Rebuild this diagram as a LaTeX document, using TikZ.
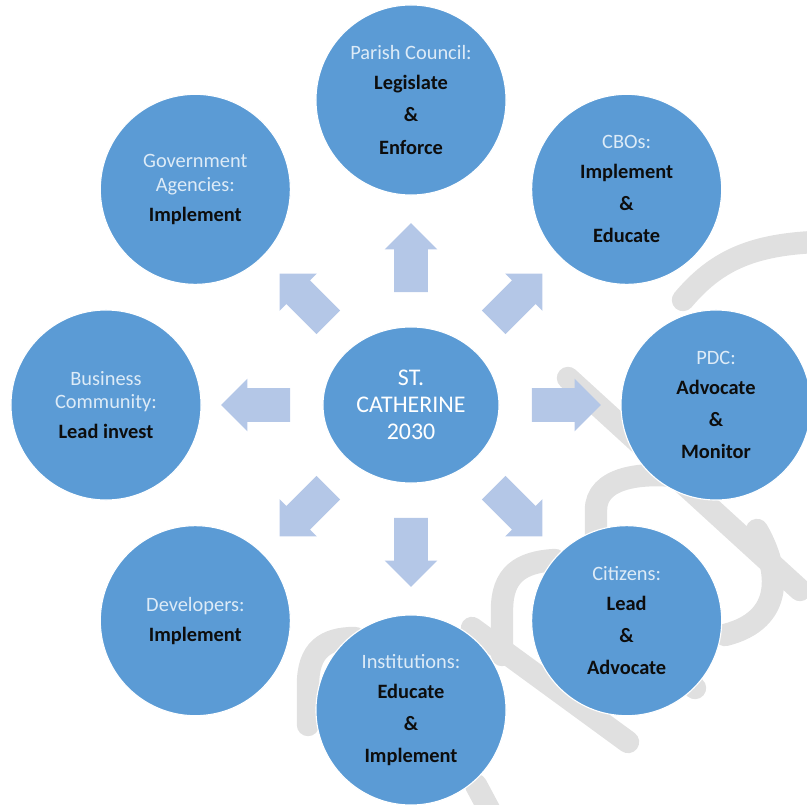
\documentclass[tikz,border=0pt]{standalone}
\usepackage{fontspec}
\setmainfont{Carlito}
\usetikzlibrary{shapes.geometric, shapes.arrows}

\definecolor{hubblue}{HTML}{5B9BD5}
\definecolor{arrowblue}{HTML}{B4C7E7}
\definecolor{rolecol}{HTML}{DDEBF7}
\definecolor{wmgray}{HTML}{E0E0E0}

\newcommand{\role}[1]{{\color{rolecol}#1}}
\newcommand{\task}[1]{{\bfseries\color{black!95}#1}}

\begin{document}
\begin{tikzpicture}[x=0.025cm, y=0.025cm,
        hub/.style={circle, fill=hubblue, draw=white, line width=0.8pt, minimum size=4.75cm,
            inner sep=0pt, align=center, font=\fontsize{14.5}{22.8}\selectfont},
        core/.style={ellipse, fill=hubblue, draw=white, line width=0.8pt, minimum width=4.4cm,
            minimum height=3.9cm, inner sep=0pt, align=center, text=white,
            font=\fontsize{17}{19.2}\selectfont},
        blockarrow/.style={single arrow, fill=arrowblue, draw=none, inner xsep=0pt,
            inner ysep=0.4125cm, minimum height=1.72cm, single arrow head extend=0.2375cm},
        wmstroke/.style={draw=wmgray, line width=0.56cm, line cap=round}
        ]
        \useasboundingbox (-411,-399) rectangle (396,405);

        % faint strokes in the background
        \begin{scope}[shift={(-411,405)}, yscale=-1]
        \draw[wmstroke] (683,300) .. controls (715,262) and (750,245) .. (815,242);
        \draw[wmstroke] (568,378) -- (800,590);
        \draw[wmstroke] (596,540) -- (596,510) .. controls (596,478) and (640,470) .. (690,478);
        \draw[wmstroke] (757,530) .. controls (780,570) and (785,620) .. (725,635);
        \draw[wmstroke] (502,655) -- (502,610) .. controls (502,575) and (520,562) .. (555,560);
        \draw[wmstroke] (472,628) -- (628,742);
        \draw[wmstroke] (308,725) -- (308,685) .. controls (308,650) and (325,638) .. (355,638);
        \draw[wmstroke] (476,785) -- (492,815);
        \draw[wmstroke] (640,640) -- (695,688);
        \end{scope}

        \node[core] (stc) at (0,0) {ST.\\CATHERINE\\2030};

        % arrows sit a little further out at the sides of the ellipse
        \foreach \a in {0,45,...,315}{
            \pgfmathsetmacro\r{143+4*cos(2*\a)}
            \node[blockarrow, rotate=\a] (arr\a) at (\a:\r) {};
        }

        \node[hub] (council) at (90:305) {\role{Parish Council:}\\[-1.5pt]\task{Legislate}\\\task{\&}\\\task{Enforce}};
        \node[hub] (cbos) at (45:305) {\role{CBOs:}\\[-1.5pt]\task{Implement}\\\task{\&}\\\task{Educate}};
        \node[hub] (pdc) at (0:305) {\role{PDC:}\\[-1.5pt]\task{Advocate}\\\task{\&}\\\task{Monitor}};
        \node[hub] (citizens) at (-45:305) {\role{Citizens:}\\[-1.5pt]\task{Lead}\\\task{\&}\\\task{Advocate}};
        \node[hub] (inst) at (-90:305) {\role{Institutions:}\\[-1.5pt]\task{Educate}\\\task{\&}\\\task{Implement}};
        \node[hub] (devs) at (-135:305) {\role{Developers:}\\[-1.5pt]\task{Implement}};
        \node[hub] (business) at (180:305) {\role{Business}\\[-5.8pt]\role{Community:}\\[-1.5pt]\task{Lead invest}};
        \node[hub] (gov) at (135:305) {\role{Government}\\[-5.8pt]\role{Agencies:}\\[-1.5pt]\task{Implement}};
\end{tikzpicture}
\end{document}
